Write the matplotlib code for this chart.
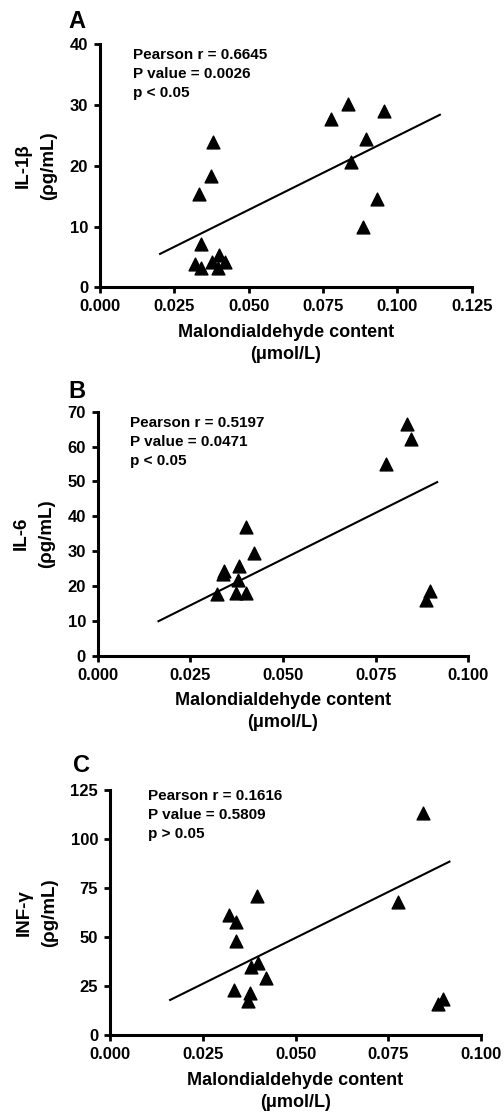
import matplotlib
matplotlib.use("Agg")
import matplotlib.pyplot as plt

plt.rcParams['font.family'] = ['Liberation Sans', 'DejaVu Sans']
plt.rcParams['font.weight'] = 'bold'

# ---- Panel A: IL-1beta ----
a_x = [0.0835, 0.0777, 0.0956, 0.0895, 0.0843, 0.0930, 0.0886, 0.0381, 0.0373,
       0.0333, 0.0340, 0.0320, 0.0340, 0.0376, 0.0400, 0.0396, 0.0420]
a_y = [30.2, 27.7, 29.1, 24.4, 20.6, 14.6, 10.0, 23.9, 18.4,
       15.3, 7.2, 3.8, 3.1, 4.2, 5.3, 3.1, 4.1]
a_fit_x = [0.0202, 0.1143]
a_fit_y = [5.5, 28.4]
a_text = ["Pearson r = 0.6645", "P value = 0.0026", "p < 0.05"]

# ---- Panel B: IL-6 ----
b_x = [0.0835, 0.0845, 0.0778, 0.0400, 0.0422, 0.0380, 0.0341, 0.0337, 0.0379,
       0.0321, 0.0373, 0.0399, 0.0898, 0.0886]
b_y = [66.4, 62.3, 54.9, 37.0, 29.4, 25.8, 24.4, 23.3, 21.7,
       17.6, 17.9, 18.1, 18.6, 16.0]
b_fit_x = [0.0164, 0.0916]
b_fit_y = [9.9, 49.8]
b_text = ["Pearson r = 0.5197", "P value = 0.0471", "p < 0.05"]

# ---- Panel C: INF-gamma ----
c_x = [0.0843, 0.0777, 0.0396, 0.0320, 0.0340, 0.0340, 0.0398, 0.0379, 0.0420,
       0.0333, 0.0377, 0.0373, 0.0897, 0.0885]
c_y = [113.5, 68.1, 71.0, 61.1, 57.9, 48.2, 36.7, 34.6, 29.0,
       23.1, 21.4, 17.7, 18.7, 16.0]
c_fit_x = [0.0162, 0.0915]
c_fit_y = [18.0, 88.5]
c_text = ["Pearson r = 0.1616", "P value = 0.5809", "p > 0.05"]

a_xticks = [0.000, 0.025, 0.050, 0.075, 0.100, 0.125]
bc_xticks = [0.000, 0.025, 0.050, 0.075, 0.100]
a_yticks = [0, 10, 20, 30, 40]
b_yticks = [0, 10, 20, 30, 40, 50, 60, 70]
c_yticks = [0, 25, 50, 75, 100, 125]

xlabel = "Malondialdehyde content\n(\u03bcmol/L)"

W, H = 504, 1117
fig = plt.figure(figsize=(W / 100, H / 100), dpi=100)


def px_axes(left, right, top, bottom):
    return fig.add_axes([left / W, 1 - bottom / H, (right - left) / W, (bottom - top) / H])


panels = [
    dict(box=(100, 471.7, 44.3, 287.3), x=a_x, y=a_y, fx=a_fit_x, fy=a_fit_y, txt=a_text,
         xt=a_xticks, yt=a_yticks, ylab="IL-1\u03b2\n(\u03c1g/mL)", letter="A",
         letter_pos=(77, 22), tpos=(0.088, 0.956)),
    dict(box=(97.7, 468.3, 411.7, 655.7), x=b_x, y=b_y, fx=b_fit_x, fy=b_fit_y, txt=b_text,
         xt=bc_xticks, yt=b_yticks, ylab="IL-6\n(\u03c1g/mL)", letter="B",
         letter_pos=(77, 391), tpos=(0.087, 0.952)),
    dict(box=(110, 481, 790, 1035.3), x=c_x, y=c_y, fx=c_fit_x, fy=c_fit_y, txt=c_text,
         xt=bc_xticks, yt=c_yticks, ylab="INF-\u03b3\n(\u03c1g/mL)", letter="C",
         letter_pos=(82, 766), tpos=(0.103, 0.9755)),
]

for p in panels:
    ax = px_axes(*p['box'])
    ax.scatter(p['x'], p['y'], marker='^', s=85, color='black', zorder=3, clip_on=False)
    ax.plot(p['fx'], p['fy'], color='black', lw=1.5)
    ax.set_xlim(p['xt'][0], p['xt'][-1])
    ax.set_ylim(p['yt'][0], p['yt'][-1])
    ax.set_xticks(p['xt'])
    ax.set_xticklabels([f"{v:.3f}" for v in p['xt']])
    ax.set_yticks(p['yt'])
    for s in ['top', 'right']:
        ax.spines[s].set_visible(False)
    for s in ['left', 'bottom']:
        ax.spines[s].set_linewidth(2.2)
    ax.tick_params(direction='out', length=4.5, width=2.0, labelsize=12, pad=4)
    for lab in ax.get_xticklabels() + ax.get_yticklabels():
        lab.set_fontweight('bold')
    ax.set_xlabel(xlabel, fontsize=13, fontweight='bold', labelpad=7, linespacing=1.4)
    ax.set_ylabel(p['ylab'], fontsize=13.5, fontweight='bold', labelpad=9, linespacing=1.65)
    tx, ty = p['tpos']
    for i, t in enumerate(p['txt']):
        ax.annotate(t, xy=(tx, ty), xycoords='axes fraction', xytext=(0, -13.7 * i),
                    textcoords='offset points', ha='left', va='center',
                    fontsize=11, fontweight='bold')
    lx, ly = p['letter_pos']
    fig.text(lx / W, 1 - ly / H, p['letter'], fontsize=17, fontweight='bold',
             ha='center', va='center')

fig.savefig("out.png", dpi=100)
